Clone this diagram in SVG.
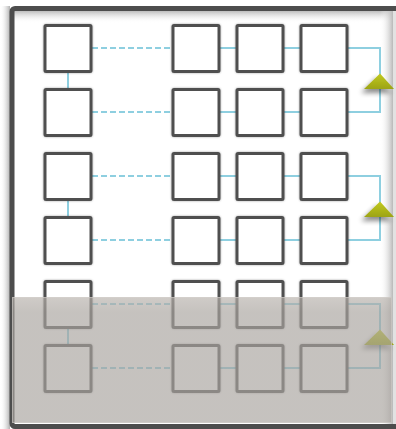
<svg xmlns="http://www.w3.org/2000/svg" width="396" height="429" viewBox="0 0 396 429">
<defs>
<style>
.box{fill:#ffffff;stroke:#505050;stroke-width:3;filter:url(#halo)}
.ln{fill:none;stroke:#8ecfe0;stroke-width:2}
.dash{stroke-dasharray:6 3}
.tri{fill:url(#triG);filter:url(#triSh)}
</style>
<linearGradient id="triG" x1="0" y1="0" x2="0" y2="1">
<stop offset="0" stop-color="#c2ca22"/>
<stop offset="1" stop-color="#9ca312"/>
</linearGradient>
<linearGradient id="topSh" x1="0" y1="0" x2="0" y2="1">
<stop offset="0" stop-color="#bdbdbd"/>
<stop offset="1" stop-color="#ffffff" stop-opacity="0"/>
</linearGradient>
<linearGradient id="rightSh" x1="0" y1="0" x2="1" y2="0">
<stop offset="0" stop-color="#ffffff" stop-opacity="0"/>
<stop offset="1" stop-color="#b8b8b8"/>
</linearGradient>
<linearGradient id="leftSh" x1="0" y1="0" x2="1" y2="0">
<stop offset="0" stop-color="#ffffff" stop-opacity="0"/>
<stop offset="1" stop-color="#b0b0b0"/>
</linearGradient>
<linearGradient id="ovG" x1="0" y1="0" x2="0" y2="1">
<stop offset="0" stop-color="#b8b2ac"/>
<stop offset="0.12" stop-color="#a9a49f"/>
<stop offset="1" stop-color="#a9a49f"/>
</linearGradient>
<filter id="halo" x="-10%" y="-10%" width="120%" height="120%">
<feGaussianBlur in="SourceAlpha" stdDeviation="1"/>
<feComponentTransfer><feFuncA type="linear" slope="0.35"/></feComponentTransfer>
<feMerge><feMergeNode/><feMergeNode in="SourceGraphic"/></feMerge>
</filter>
<filter id="triSh" x="-50%" y="-50%" width="200%" height="220%">
<feGaussianBlur in="SourceAlpha" stdDeviation="2.5"/>
<feOffset dx="-3" dy="4"/>
<feComponentTransfer><feFuncA type="linear" slope="0.45"/></feComponentTransfer>
<feMerge><feMergeNode/><feMergeNode in="SourceGraphic"/></feMerge>
</filter>
</defs>
<rect width="396" height="429" fill="#ffffff"/>
<g id="frame">
<rect x="0" y="6" width="10" height="423" fill="url(#leftSh)"/>
<rect x="14" y="11" width="384" height="12" fill="url(#topSh)"/>
<rect x="380" y="11" width="13" height="418" fill="url(#rightSh)"/>
<rect x="393" y="11" width="3" height="418" fill="#e2e2e2"/>
<rect x="12" y="8.5" width="392" height="418" rx="3" fill="none" stroke="#4d4d4d" stroke-width="5"/>
</g>
<g id="connectors">
<path class="ln dash" d="M92 48H172M92 112H172M92 176H172M92 240H172M92 304H172M92 368H172"/>
<path class="ln" d="M220 48H236M284 48H300M220 112H236M284 112H300M220 176H236M284 176H300M220 240H236M284 240H300M220 304H236M284 304H300M220 368H236M284 368H300"/>
<path class="ln" d="M68 72V88M68 200V216M68 328V344"/>
<path class="ln" d="M348 48H380V75M380 88V112H348M348 176H380V203M380 216V240H348M348 304H380V331M380 344V368H348"/>
</g>
<g id="n1"><rect class="box" x="45" y="25.5" width="46" height="46" rx="1"/></g>
<g id="n2"><rect class="box" x="173" y="25.5" width="46" height="46" rx="1"/></g>
<g id="n3"><rect class="box" x="237" y="25.5" width="46" height="46" rx="1"/></g>
<g id="n4"><rect class="box" x="301" y="25.5" width="46" height="46" rx="1"/></g>
<g id="n5"><rect class="box" x="45" y="89.5" width="46" height="46" rx="1"/></g>
<g id="n6"><rect class="box" x="173" y="89.5" width="46" height="46" rx="1"/></g>
<g id="n7"><rect class="box" x="237" y="89.5" width="46" height="46" rx="1"/></g>
<g id="n8"><rect class="box" x="301" y="89.5" width="46" height="46" rx="1"/></g>
<g id="n9"><rect class="box" x="45" y="153.5" width="46" height="46" rx="1"/></g>
<g id="n10"><rect class="box" x="173" y="153.5" width="46" height="46" rx="1"/></g>
<g id="n11"><rect class="box" x="237" y="153.5" width="46" height="46" rx="1"/></g>
<g id="n12"><rect class="box" x="301" y="153.5" width="46" height="46" rx="1"/></g>
<g id="n13"><rect class="box" x="45" y="217.5" width="46" height="46" rx="1"/></g>
<g id="n14"><rect class="box" x="173" y="217.5" width="46" height="46" rx="1"/></g>
<g id="n15"><rect class="box" x="237" y="217.5" width="46" height="46" rx="1"/></g>
<g id="n16"><rect class="box" x="301" y="217.5" width="46" height="46" rx="1"/></g>
<g id="n17"><rect class="box" x="45" y="281.5" width="46" height="46" rx="1"/></g>
<g id="n18"><rect class="box" x="173" y="281.5" width="46" height="46" rx="1"/></g>
<g id="n19"><rect class="box" x="237" y="281.5" width="46" height="46" rx="1"/></g>
<g id="n20"><rect class="box" x="301" y="281.5" width="46" height="46" rx="1"/></g>
<g id="n21"><rect class="box" x="45" y="345.5" width="46" height="46" rx="1"/></g>
<g id="n22"><rect class="box" x="173" y="345.5" width="46" height="46" rx="1"/></g>
<g id="n23"><rect class="box" x="237" y="345.5" width="46" height="46" rx="1"/></g>
<g id="n24"><rect class="box" x="301" y="345.5" width="46" height="46" rx="1"/></g>
<g id="t1"><polygon class="tri" points="380,73.5 394,89 364,89"/></g>
<g id="t2"><polygon class="tri" points="380,201.5 394,217 364,217"/></g>
<g id="t3"><polygon class="tri" points="380,329.5 394,345 364,345"/></g>
<g id="overlay">
<rect x="12" y="297" width="380" height="126" fill="url(#ovG)" opacity="0.67"/>
<rect x="12.5" y="297.5" width="379" height="125" fill="none" stroke="#d8d4d0" stroke-opacity="0.5" stroke-width="1"/>
</g>
</svg>
